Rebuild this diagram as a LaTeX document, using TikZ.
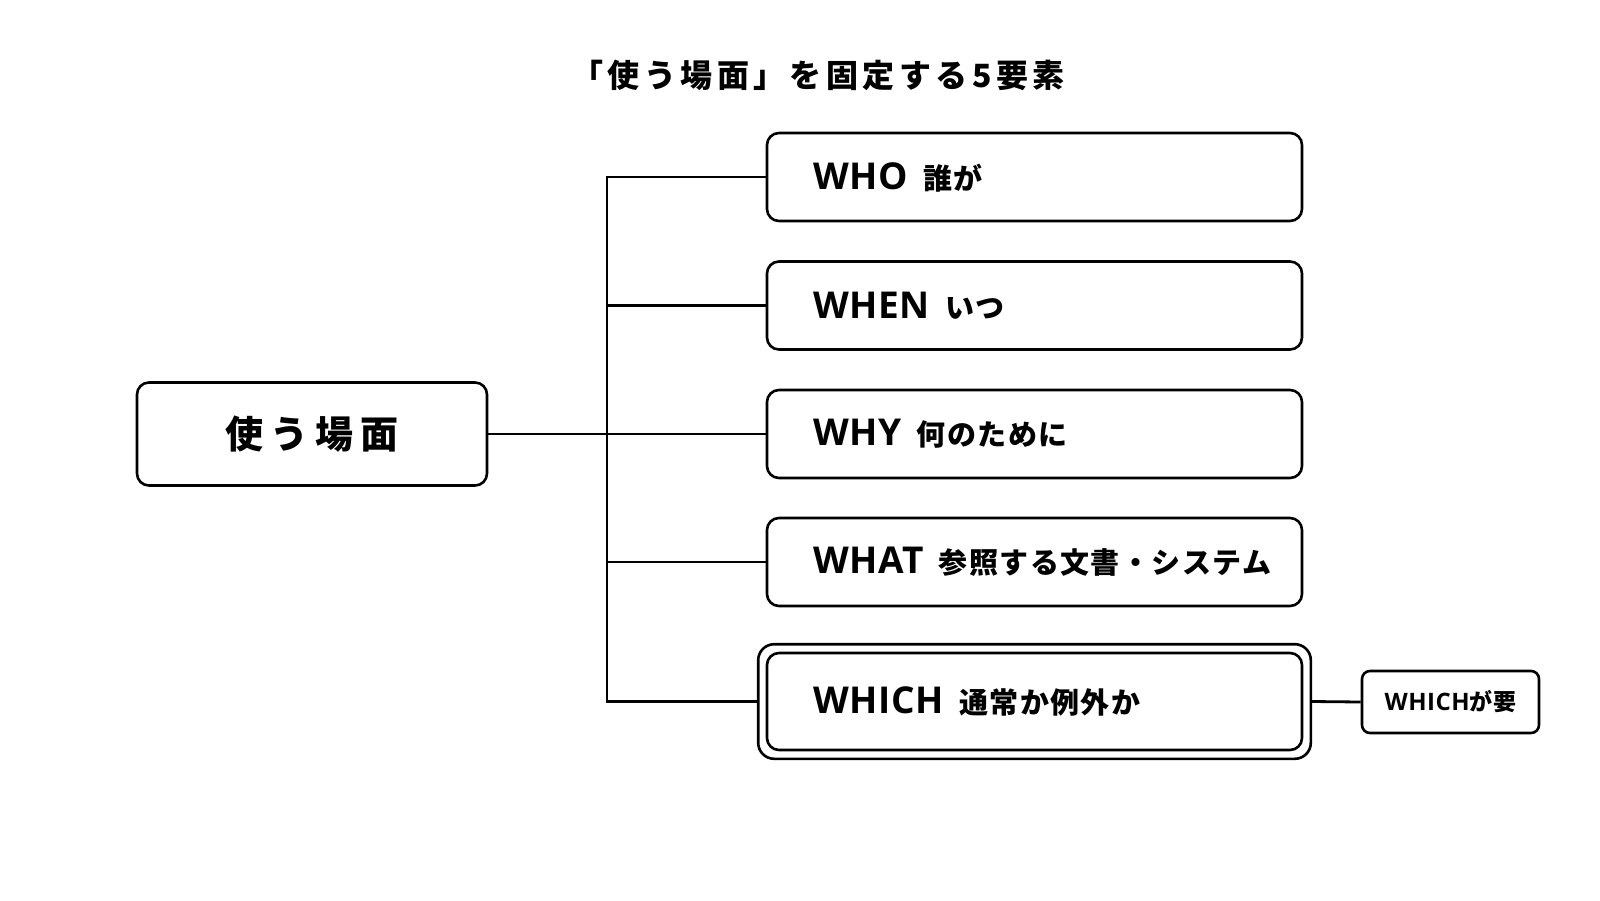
\documentclass[tikz,border=0pt]{standalone}
\usepackage{fontspec}
\usetikzlibrary{fit}
\newfontfamily\jp{Noto Sans CJK JP}
\newfontfamily\lat{Open Sans}
\newcommand\elem[2]{\raisebox{-3pt}{{\lat\bfseries\fontsize{37}{40}\selectfont\addfontfeatures{LetterSpace=2}#1}\hspace{15pt}{\jp\bfseries\fontsize{29}{32}\selectfont\addfontfeatures{LetterSpace=5}#2}}}
\tikzset{
  rbox/.style={draw=black, line width=2.6pt, rounded corners=12pt, fill=white,
    minimum width=535pt, minimum height=88pt, text width=443pt, inner xsep=46pt, align=left},
  conn/.style={draw=black, line width=2.8pt},
}
\begin{document}
\begin{tikzpicture}[x=1pt,y=-1pt]
\fill[white] (0,0) rectangle (1600,900);
\useasboundingbox (0,0) rectangle (1600,900);

\node (title) at (818,75) {\jp\bfseries\fontsize{32}{36}\selectfont\addfontfeatures{LetterSpace=14}「使う場面」を固定する5要素};

\node[draw=black, line width=2.6pt, rounded corners=12pt, fill=white, minimum width=350pt, minimum height=103pt] (main) at (312,434)
  {\jp\bfseries\fontsize{38}{42}\selectfont\addfontfeatures{LetterSpace=18}使う場面};

\node[rbox] (who)  at (1034.5,177)   {\elem{WHO}{誰が}};
\node[rbox] (when) at (1034.5,305.5) {\elem{WHEN}{いつ}};
\node[rbox] (why)  at (1034.5,434)   {\elem{WHY}{何のために}};
\node[rbox] (what) at (1034.5,562)   {\elem{WHAT}{参照する文書・システム}};
\node[rbox, minimum height=97pt] (which) at (1034.5,701.5) {\elem{WHICH}{通常か例外か}};
\node[draw=black, line width=2.6pt, rounded corners=16pt, fit=(which), inner sep=7.5pt] (whichouter) {};

\node[draw=black, line width=2.6pt, rounded corners=8pt, fill=white, minimum width=177pt, minimum height=62pt] (key) at (1450.5,702)
  {{\lat\bfseries\fontsize{24}{28}\selectfont\addfontfeatures{LetterSpace=2}WHICH}{\jp\bfseries\fontsize{23}{26}\selectfont\addfontfeatures{LetterSpace=3}が要}};

\coordinate (trunk) at (607,0);
\draw[conn] (main.east) -- (why.west);
\draw[conn] (who.west) -- (who.west -| trunk) -- (whichouter.west -| trunk) -- (whichouter.west);
\draw[conn] (when.west) -- (when.west -| trunk);
\draw[conn] (what.west) -- (what.west -| trunk);
\draw[conn] (whichouter.east) -- (key.west);
\end{tikzpicture}
\end{document}
